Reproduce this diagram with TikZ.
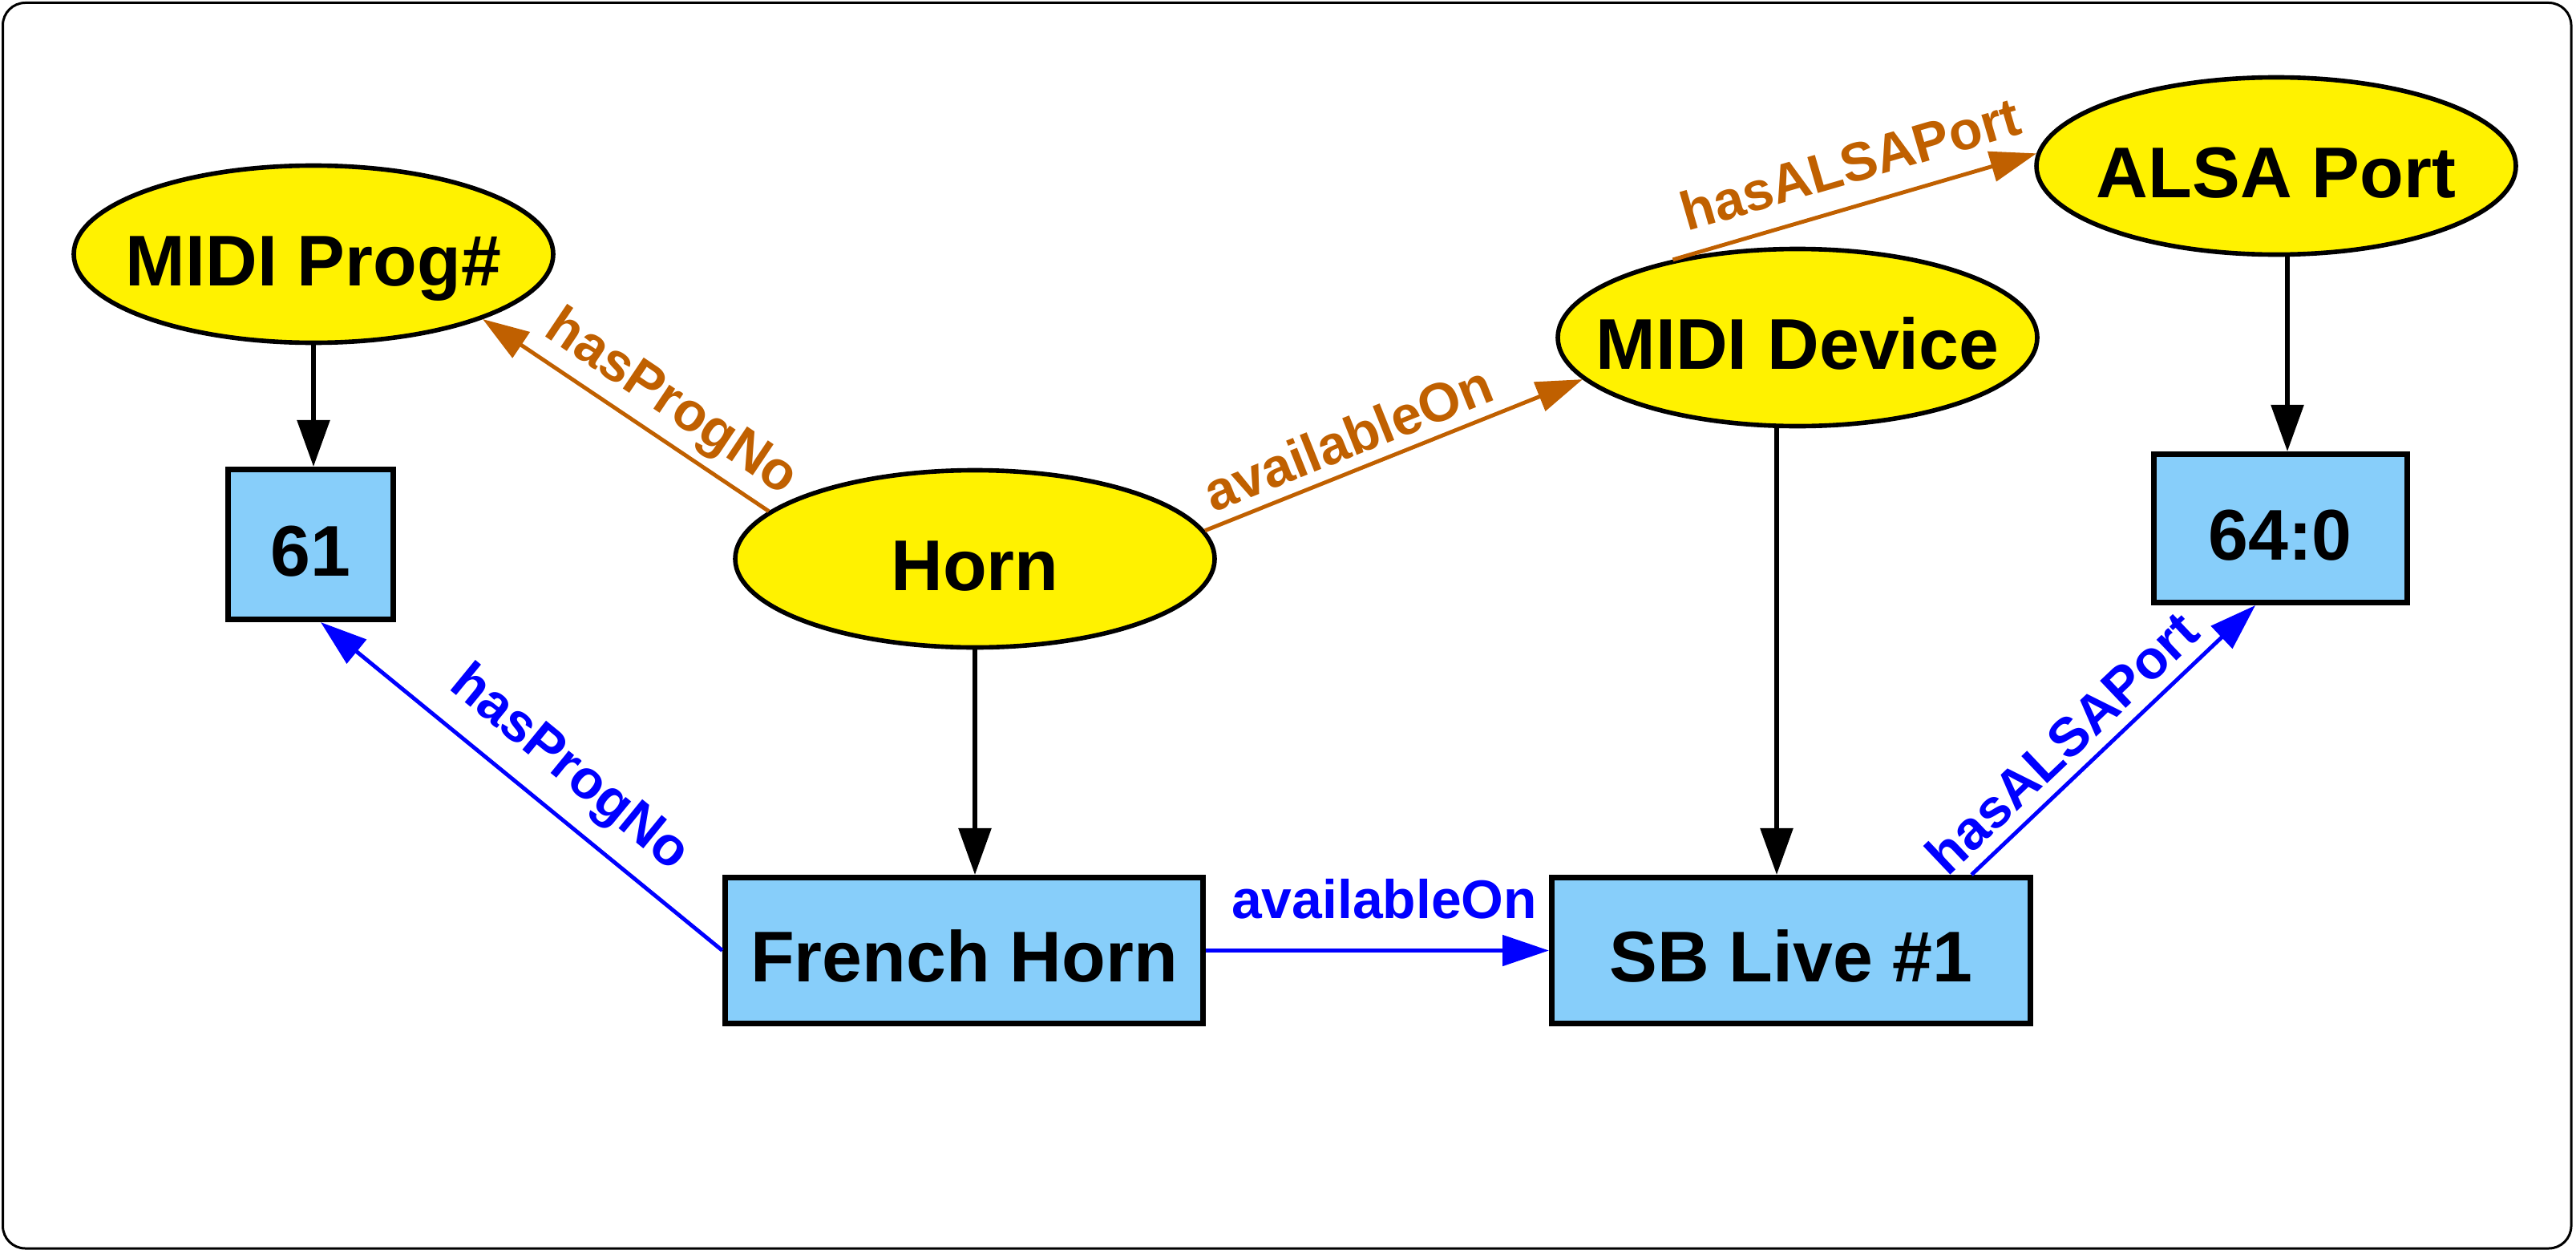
\documentclass[tikz,border=0pt]{standalone}
\usepackage{fontspec}
\setmainfont{Liberation Sans}
\usetikzlibrary{arrows.meta,shapes.geometric}

\definecolor{relorange}{RGB}{192,96,0}
\definecolor{instblue}{HTML}{87CEFA}

\newcommand\ctext[1]{\makebox[0pt]{#1}}

\tikzset{
  cls/.style={ellipse, draw, line width=1.6pt, fill=yellow,
    minimum width=5.98cm, minimum height=2.21cm, inner sep=0pt,
    font=\fontsize{25.5}{30}\selectfont\bfseries, text height=22.4pt, text depth=0pt},
  inst/.style={rectangle, draw, line width=2pt, fill=instblue, inner sep=0pt,
    font=\fontsize{25.5}{30}\selectfont\bfseries, text height=22.4pt, text depth=0pt},
  link/.style={line width=1.6pt, -{Triangle[length=5.8mm,width=4mm]}},
  rel/.style={line width=1.4pt, -{Triangle[length=5.8mm,width=3.8mm]}},
  lbl/.style={font=\fontsize{19.3}{23}\selectfont\bfseries, inner sep=0pt,
    text height=14.1pt, text depth=4.05pt},
}

\begin{document}
\begin{tikzpicture}
\useasboundingbox (0,0) rectangle (32.13,15.63);
\draw[line width=0.03cm, rounded corners=0.28cm] (0.035,0.06) rectangle (32.07,15.595);

% classes
\node[cls] (prog) at (3.91,12.46) {\ctext{MIDI Prog\#}};
\node[cls] (horn) at (12.16,8.66) {\ctext{Horn}};
\node[cls] (device) at (22.42,11.42) {\ctext{MIDI Device}};
\node[cls] (alsa) at (28.39,13.56) {\ctext{ALSA Port}};

% instances
\node[inst, minimum width=2.06cm, minimum height=1.87cm] (n61) at (3.875,8.84) {61};
\node[inst, minimum width=3.16cm, minimum height=1.85cm] (port) at (28.44,9.04) {64:0};
\node[inst, minimum width=5.96cm, minimum height=1.82cm] (french) at (12.025,3.775) {French Horn};
\node[inst, minimum width=5.97cm, minimum height=1.82cm] (sblive) at (22.34,3.775) {SB Live \#1};

% instance of
\draw[link] (prog.south) -- (prog.south |- n61.north);
\draw[link] (horn.south) -- (horn.south |- french.north);
\draw[link] ([xshift=-2.6mm]device.south) -- ([xshift=-2.6mm]device.south |- sblive.north);
\draw[link] ([xshift=1.4mm]alsa.south) -- ([xshift=1.4mm]alsa.south |- port.north);

% class relations
\draw[rel, relorange] (horn.167.5) -- node[lbl, sloped, above=0.9mm, pos=0.41] {hasProgNo} (prog.339.3);
\draw[rel, relorange] (horn.7.6) -- node[lbl, sloped, above=0mm, pos=0.41] {availableOn} (device.191.5);
\draw[rel, relorange] (device.148) -- node[lbl, sloped, above=1.2mm, pos=0.52] {hasALSAPort} (alsa.177);

% instance relations
\draw[rel, blue] (french.west) -- node[lbl, sloped, above=1.95mm, pos=0.45] {hasProgNo} ([xshift=1.25mm]n61.south);
\draw[rel, blue] (french.east) -- node[lbl, above=2.3mm, pos=0.52] {availableOn} (sblive.west);
\draw[rel, blue] ([xshift=22.5mm]sblive.north) -- node[lbl, sloped, above=0.1mm, pos=0.40] {hasALSAPort} ([xshift=-3.1mm]port.south);
\end{tikzpicture}
\end{document}
